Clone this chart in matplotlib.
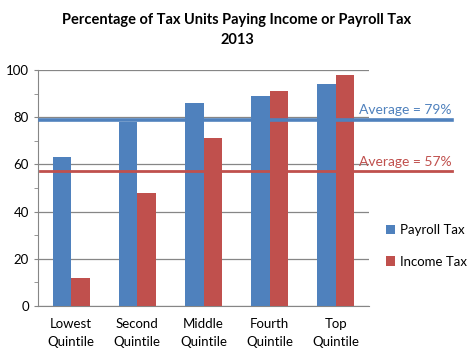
import matplotlib
matplotlib.use("Agg")
import matplotlib.pyplot as plt
import numpy as np

plt.rcParams["font.family"] = ["Lato", "DejaVu Sans"]

categories = ["Lowest\nQuintile", "Second\nQuintile", "Middle\nQuintile", "Fourth\nQuintile", "Top\nQuintile"]
payroll = [63, 78, 86, 89, 94]
income = [12, 48, 71, 91, 98]
avg_payroll = 79
avg_income = 57

BLUE = "#4F81BD"
RED = "#C0504D"
GRID = "#868686"

fig = plt.figure(figsize=(4.74, 3.53), dpi=100)
# axes box in pixels: x 38..369, y 70..306
ax = fig.add_axes([38 / 474, 1 - 306 / 353, 331 / 474, 236 / 353])

x = np.arange(len(categories))
w = 0.28
ax.bar(x - w / 2, payroll, w, color=BLUE, label="Payroll Tax", zorder=3)
ax.bar(x + w / 2, income, w, color=RED, label="Income Tax", zorder=3)

ax.set_xlim(-0.5, len(categories) - 0.5)
ax.set_ylim(0, 100)
ax.set_yticks(range(0, 101, 20))
ax.set_yticks(range(10, 100, 20), minor=True)
ax.set_xticks(x)
ax.set_xticklabels(categories, fontsize=9.5, linespacing=1.5)
ax.tick_params(axis="x", length=0, pad=9)
ax.tick_params(axis="y", which="both", direction="out", length=3, color=GRID, labelsize=9.5)
ax.grid(axis="y", color=GRID, linewidth=0.9, zorder=0)
for side in ("top", "right"):
    ax.spines[side].set_visible(False)
for side in ("left", "bottom"):
    ax.spines[side].set_color(GRID)

# average lines, extending past the plot area
x0, x1 = -0.47, 5.75
ax.plot([x0, x1], [avg_payroll, avg_payroll], color=BLUE, linewidth=2.6, zorder=4, clip_on=False)
ax.plot([x0, x1], [avg_income, avg_income], color=RED, linewidth=2.0, zorder=4, clip_on=False)
ax.text(x1, avg_payroll + 1.5, f"Average = {avg_payroll}%", color=BLUE, fontsize=10,
        ha="right", va="bottom")
ax.text(x1, avg_income + 1.5, f"Average = {avg_income}%", color=RED, fontsize=10,
        ha="right", va="bottom")

fig.legend(loc="upper left", bbox_to_anchor=(374 / 474, 1 - 212 / 353), frameon=False,
           fontsize=9.5, handlelength=0.7, handleheight=0.7, handletextpad=0.4,
           labelspacing=1.5)

fig.text(0.5, 1 - 30 / 353, "Percentage of Tax Units Paying Income or Payroll Tax\n2013",
         ha="center", va="center", fontsize=10.5, fontweight="bold", linespacing=1.6)

fig.savefig("out.png", dpi=100)
